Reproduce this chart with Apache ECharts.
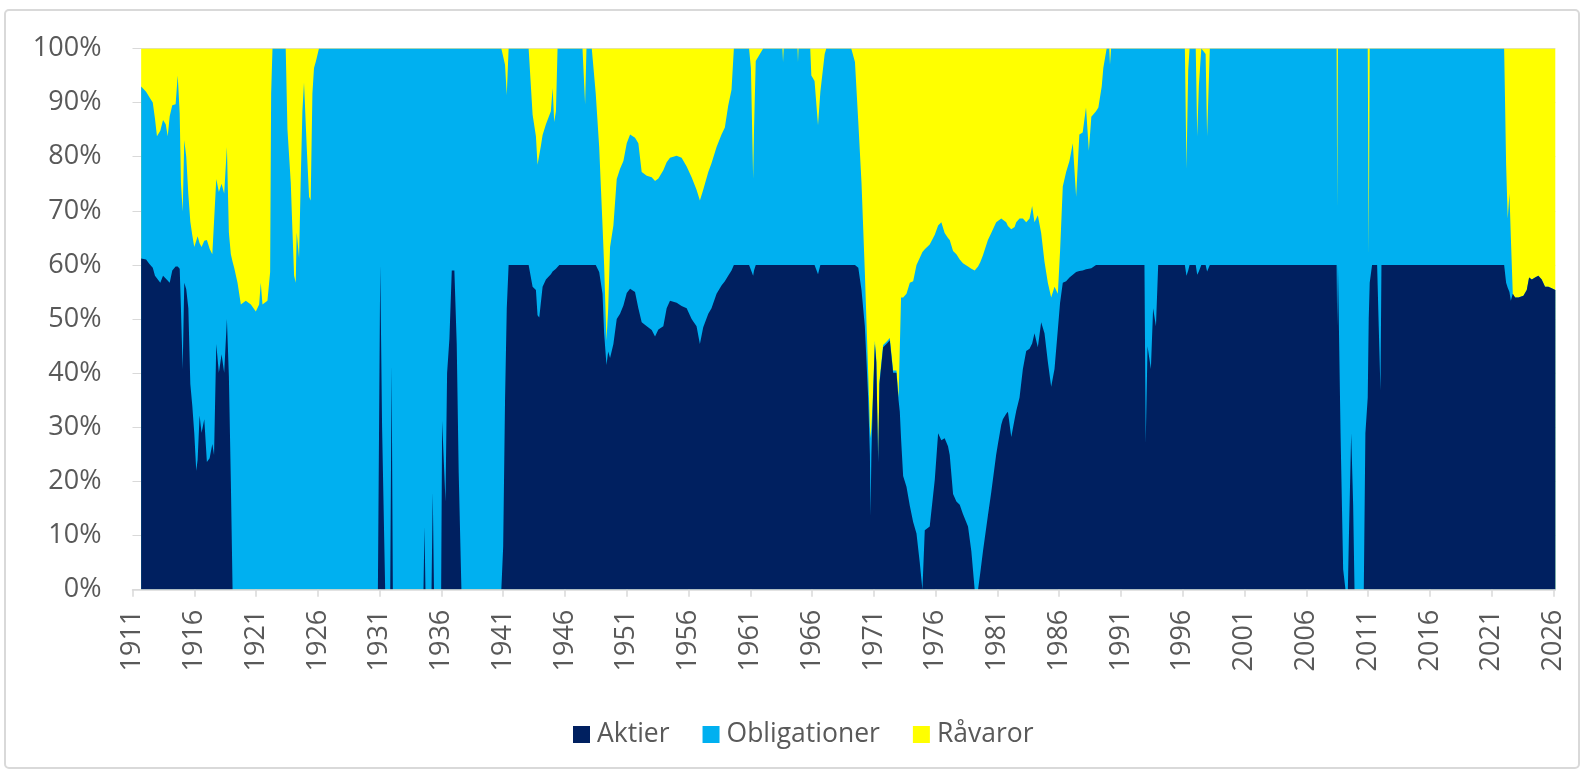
<!DOCTYPE html>
<html>
<head>
<meta charset="utf-8">
<script src="https://cdn.jsdelivr.net/npm/echarts@6.0.0/dist/echarts.min.js"></script>
<style>
  html, body { margin: 0; padding: 0; background: #fff; }
  #chart { width: 1586px; height: 778px; }
</style>
</head>
<body>
<div id="chart"></div>
<script>
// sample dates (decimal years)
var years = [
  1911.7,1912.1,1912.37,1912.64,1912.82,1912.98,1913.25,1913.47,1913.69,1913.85,
  1914.01,1914.22,1914.49,1914.66,1914.82,1914.92,1915.06,1915.19,1915.35,1915.52,
  1915.68,1915.84,1916.0,1916.16,1916.27,1916.43,1916.59,1916.81,1917.02,1917.24,
  1917.46,1917.6,1917.78,1917.99,1918.21,1918.42,1918.64,1918.8,1918.96,1919.1,
  1919.23,1919.5,1919.77,1920.17,1920.58,1920.98,1921.25,1921.38,1921.52,1921.92,
  1922.14,1922.22,1922.33,1923.4,1923.54,1923.81,1923.94,1924.08,1924.21,1924.29,
  1924.48,1924.61,1924.75,1924.88,1925.1,1925.29,1925.42,1925.56,1925.69,1925.85,
  1926.09,1930.86,1931.05,1931.2,1931.45,1931.86,1931.97,1932.07,1934.55,1934.63,
  1934.71,1935.2,1935.3,1935.4,1935.98,1936.06,1936.2,1936.33,1936.46,1936.65,
  1936.84,1937.05,1937.24,1937.4,1937.62,1940.85,1941.0,1941.15,1941.29,1941.44,
  1943.06,1943.38,1943.65,1943.78,1943.92,1944.05,1944.19,1944.46,1944.86,1945.0,
  1945.13,1945.27,1945.4,1945.54,1947.42,1947.63,1947.74,1948.17,1948.49,1948.77,
  1949.04,1949.17,1949.36,1949.5,1949.65,1949.92,1950.19,1950.46,1950.73,1951.0,
  1951.27,1951.67,1951.94,1952.21,1952.62,1953.02,1953.29,1953.56,1953.96,1954.23,
  1954.5,1955.04,1955.44,1955.85,1956.25,1956.65,1956.92,1957.19,1957.6,1957.86,
  1958.27,1958.67,1958.94,1959.21,1959.48,1959.67,1960.9,1961.05,1961.23,1961.3,
  1961.44,1962.04,1963.6,1963.65,1963.7,1964.82,1964.86,1964.9,1965.85,1965.94,
  1966.2,1966.48,1966.67,1967.02,1967.15,1969.17,1969.47,1969.74,1970.0,1970.27,
  1970.54,1970.68,1970.73,1970.8,1970.89,1971.08,1971.2,1971.35,1971.45,1971.75,
  1972.02,1972.29,1972.56,1972.83,1973.0,1973.1,1973.2,1973.37,1973.64,1973.91,
  1974.18,1974.45,1974.71,1974.93,1975.12,1975.52,1975.93,1976.2,1976.46,1976.73,
  1977.0,1977.14,1977.41,1977.68,1977.95,1978.21,1978.62,1978.89,1979.16,1979.43,
  1979.61,1979.83,1980.23,1980.5,1980.9,1981.04,1981.31,1981.44,1981.71,1981.85,
  1982.12,1982.39,1982.52,1982.79,1983.06,1983.33,1983.6,1983.81,1984.0,1984.27,
  1984.54,1984.81,1985.08,1985.35,1985.62,1985.89,1986.07,1986.29,1986.56,1986.83,
  1987.1,1987.37,1987.63,1987.9,1988.17,1988.4,1988.6,1988.98,1989.17,1989.44,
  1989.57,1989.84,1990.05,1990.11,1990.2,1992.9,1993.0,1993.15,1993.42,1993.6,
  1993.83,1994.01,1996.17,1996.3,1996.44,1996.55,1997.05,1997.17,1997.3,1997.5,
  1997.85,1997.97,1998.19,2008.45,2008.5,2008.56,2008.63,2008.77,2008.98,2009.17,
  2009.36,2009.44,2009.63,2009.79,2009.9,2010.65,2010.78,2010.97,2011.05,2011.13,
  2011.32,2011.73,2011.86,2012.0,2012.08,2022.01,2022.17,2022.3,2022.44,2022.55,
  2022.71,2022.9,2023.17,2023.57,2023.84,2024.03,2024.25,2024.51,2024.78,2025.05,
  2025.32,2025.59,2025.86,2026.15
];

// share of stocks (%)
var aktier = [
  61.2,61.0,60.2,59.5,58.0,58.0,56.7,58.0,57.5,57.3,
  56.7,59.0,59.7,59.7,59.3,52.0,40.8,56.7,55.5,52.0,
  38.0,34.0,28.9,22.0,24.0,32.2,29.0,31.5,23.6,24.3,
  26.9,24.9,45.4,40.1,43.5,40.1,50.0,39.5,20.0,0,
  0,0,0,0,0,0,0,0,0,0,
  0,0,0,0,0,0,0,0,0,0,
  0,0,0,0,0,0,0,0,0,0,
  0,0,60,30,0,0,41.5,0,0,11.7,
  0,0,18,0,0,31.2,31.2,16.3,40,46.4,
  59,59,45.4,21.6,0,0,8,35,52,60,
  60,56,55.4,50.7,50.3,50,56,57.3,58.3,58.8,
  59,59.3,59.5,60,60,60,60,60,60,58.7,
  54.7,47.4,41.5,44,42.8,45.4,50,51,52.5,54.8,
  55.6,55,52,49.4,48.7,48,46.8,48.1,48.7,52,
  53.4,53,52.4,52,50,48.7,45.4,48.5,51,52,
  54.7,56.2,57,58,59,60,60,60,58,59,
  60,60,60,60,60,60,60,60,60,60,
  60,58.3,60,60,60,60,60,59.5,55.4,48.7,
  35.5,25,13.7,25,32.9,45.4,42,23.6,38,44.8,
  45.4,46.1,40.1,40.1,35,32.9,28,21,19,15.5,
  12.5,10.4,5.1,0,11,11.7,20.3,28.9,27.6,28,
  26.5,24.9,17.7,16.3,15.7,14,11.7,7.1,0,0,
  3.1,7.1,13.7,18,25,26.9,30.5,31.5,32.5,32.9,
  28.2,31.5,33,35.5,40.8,44.1,44.5,45.5,47.4,44.8,
  49.4,47.4,42.1,37.5,40.8,48.1,53,56.7,57,57.7,
  58.2,58.7,58.9,59,59.2,59.3,59.4,60,60,60,
  60,60,60,60,60,60,27,45,40.8,52,
  48.7,60,60,58,59,60,60,58.2,58.8,60,
  60,58.8,60,60,48.7,60,60,28.9,3.8,0,
  0,9.1,28.9,15.7,0,0,28.9,35.5,50,56.7,
  60,60,48.7,36.8,60,60,56.7,55.8,55,53.4,
  54.7,54,54,54.3,55.4,57.7,57.3,57.7,58,57.3,
  56,56,55.7,55.4
];

// share of bonds (%)
var obligationer = [
  31.8,31.0,30.8,30.5,29.0,25.8,28.1,28.8,28.5,26.5,
  30.8,30.5,30.0,35.3,28.7,23.2,29.1,26.4,24.5,21.0,
  30.0,31.5,34.4,42.5,41.3,31.8,34.3,33.0,41.0,38.7,
  35.1,37.1,30.5,33.4,31.5,33.1,31.8,26.5,42.0,60.6,
  59.5,56.7,52.7,53.4,52.7,51.4,52.7,56.7,52.7,53.4,
  58.7,91.7,100,100,85.1,75.2,66.6,58.0,56.7,66.0,
  61.3,75.2,88.4,93.7,81.8,72.6,71.9,91.7,96.4,97.7,
  100,100,40,70,100,100,58.5,100,100,88.3,
  100,100,82,100,100,68.8,68.8,83.7,60,53.6,
  41,41,54.6,78.4,100,100,92,62,39.4,40,
  40,31.8,28.4,27.8,27.9,32,28,28.7,30.1,33.9,
  27.4,29.1,40.5,40,40,29.7,40,40,31.7,23.1,
  12.6,12.6,4.5,8,20.5,21.9,25.9,26.8,26.7,27.7,
  28.5,28.5,30.5,27.8,27.8,28.2,28.7,27.9,28.8,27,
  26.4,27.2,27.4,26.2,26.2,25.2,26.5,25.4,26.2,26.8,
  27.1,27.9,28.4,31.4,33.4,40,40,36.4,17.9,26,
  37.7,40,40,37.5,40,40,37.5,40,40,35,
  34,27.5,32,39,40,40,37.5,26.9,19.8,10,
  4.6,5,14.3,5,1.1,0.6,0.5,0.4,0.5,0.4,
  0.4,0.4,0.4,0.4,0.5,2.6,26,33,35.7,41.2,
  44.5,49.6,56.2,62.4,51.9,52.1,45.3,38.4,40.3,37.9,
  38.5,39.7,44.9,45.7,45.3,46.3,48,52.2,59,59.7,
  57.4,54.7,50.9,47.9,42.9,41.1,38.1,36.8,35.4,34.3,
  38.4,35.5,34.9,33.1,27.8,23.8,24.1,25.4,20.5,24.4,
  16.5,13.2,14.6,16.5,15.2,6.6,9.6,17.8,20.2,21.5,
  24.3,13.9,25.2,25.5,29.9,21.8,28,28.4,29.1,33,
  36.4,40,40,37,40,40,73,55,59.2,48,
  51.3,40,40,19.8,37,40,40,25.6,34.2,40,
  39,25,40,40,21.9,40,40,71.1,96.2,100,
  100,90.9,71.1,84.3,100,100,71.1,64.5,12,43.3,
  40,40,51.3,63.2,40,40,21.8,12.8,18.2,11.9,
  0,0,0,0,0,0,0,0,0,0,
  0,0,0,0
];

// share of commodities (%)
var ravaror = [
  7.0,8.0,9.0,10.0,13.0,16.2,15.2,13.2,14.0,16.2,
  12.5,10.5,10.3,5.0,12.0,24.8,30.1,16.9,20.0,27.0,
  32.0,34.5,36.7,35.5,34.7,36.0,36.7,35.5,35.4,37.0,
  38.0,38.0,24.1,26.5,25.0,26.8,18.2,34.0,38.0,39.4,
  40.5,43.3,47.3,46.6,47.3,48.6,47.3,43.3,47.3,46.6,
  41.3,8.3,0,0,14.9,24.8,33.4,42.0,43.3,34.0,
  38.7,24.8,11.6,6.3,18.2,27.4,28.1,8.3,3.6,2.3,
  0,0,0,0,0,0,0,0,0,0,
  0,0,0,0,0,0,0,0,0,0,
  0,0,0,0,0,0,0,3,8.6,0,
  0,12.2,16.2,21.5,21.8,18,16,14,11.6,7.3,
  13.6,11.6,0,0,0,10.3,0,0,8.3,18.2,
  32.7,40,54,48,36.7,32.7,24.1,22.2,20.8,17.5,
  15.9,16.5,17.5,22.8,23.5,23.8,24.5,24,22.5,21,
  20.2,19.8,20.2,21.8,23.8,26.1,28.1,26.1,22.8,21.2,
  18.2,15.9,14.6,10.6,7.6,0,0,3.6,24.1,15,
  2.3,0,0,2.5,0,0,2.5,0,0,5,
  6,14.2,8,1,0,0,2.5,13.6,24.8,41.3,
  59.9,70,72,70,66,54,57.5,76,61.5,54.8,
  54.2,53.5,59.5,59.5,64.5,64.5,46,46,45.3,43.3,
  43,40,38.7,37.6,37.1,36.2,34.4,32.7,32.1,34.1,
  35,35.4,37.4,38,39,39.7,40.3,40.7,41,40.3,
  39.5,38.2,35.4,34.1,32.1,32,31.4,31.7,32.1,32.8,
  33.4,33,32.1,31.4,31.4,32.1,31.4,29.1,32.1,30.8,
  34.1,39.4,43.3,46,44,45.3,37.4,25.5,22.8,20.8,
  17.5,27.4,15.9,15.5,10.9,18.9,12.6,11.6,10.9,7,
  3.6,0,0,3,0,0,0,0,0,0,
  0,0,0,22.2,4,0,0,16.2,7,0,
  1,16.2,0,0,29.4,0,0,0,0,0,
  0,0,0,0,0,0,0,0,38,0,
  0,0,0,0,0,0,21.5,31.4,26.8,34.7,
  45.3,46,46,45.7,44.6,42.3,42.7,42.3,42,42.7,
  44,44,44.3,44.6
];

var tickYears = [1911,1916,1921,1926,1931,1936,1941,1946,1951,1956,1961,1966,
  1971,1976,1981,1986,1991,1996,2001,2006,2011,2016,2021,2026];

var seriesNames = ['Aktier', 'Obligationer', 'Råvaror'];
var seriesColors = ['#002060', '#00B0F0', '#FFFF00'];

var chart = echarts.init(document.getElementById('chart'));

// stack the shares by hand: each area is filled from 0 up to its running total,
// later series are painted over earlier ones
var shares = [aktier, obligationer, ravaror];
var running = years.map(function () { return 0; });
var tops = shares.map(function (values) {
  running = running.map(function (r, i) { return r + values[i]; });
  return years.map(function (y, i) { return [y, Math.round(running[i] * 10) / 10]; });
});

function areaSeries(k) {
  return {
    name: seriesNames[k],
    type: 'line',
    data: tops[k],
    symbol: 'none',
    silent: true,
    z: 5 - k,
    lineStyle: { width: 0 },
    itemStyle: { color: seriesColors[k] },
    areaStyle: { color: seriesColors[k], opacity: 1 }
  };
}

var labelFont = 'Open Sans';

var option = {
  animation: false,
  color: seriesColors,
  graphic: [{
    type: 'rect',
    silent: true,
    z: -10,
    shape: { x: 5, y: 10, width: 1574, height: 758, r: 4 },
    style: { fill: '#ffffff', stroke: '#d9d9d9', lineWidth: 2 }
  }],
  grid: { left: 132.5, right: 30.7, top: 48.5, bottom: 188.3, containLabel: false },
  legend: {
    data: seriesNames,
    icon: 'rect',
    itemWidth: 17,
    itemHeight: 17,
    itemGap: 33,
    left: 568,
    top: 716,
    textStyle: { fontFamily: labelFont, fontSize: 26.5, color: '#595959', padding: [0, 0, 0, 2] }
  },
  xAxis: {
    type: 'value',
    min: 1911,
    max: 2026.15,
    z: 10,
    axisLine: { show: true, lineStyle: { color: '#d9d9d9', width: 1.5 } },
    axisTick: { show: true, length: 7, customValues: tickYears, lineStyle: { color: '#d9d9d9', width: 1.5 } },
    axisLabel: {
      customValues: tickYears,
      formatter: function (v) { return String(v); },
      rotate: 90,
      margin: 20,
      fontFamily: labelFont,
      fontSize: 27,
      color: '#595959'
    },
    splitLine: { show: false }
  },
  yAxis: {
    type: 'value',
    min: 0,
    max: 100,
    interval: 10,
    axisLine: { show: false },
    axisTick: { show: false },
    axisLabel: {
      formatter: '{value}%',
      margin: 31,
      fontFamily: labelFont,
      fontSize: 27,
      color: '#595959'
    },
    splitLine: { show: true, lineStyle: { color: '#d9d9d9', width: 1.2 } }
  },
  series: [areaSeries(0), areaSeries(1), areaSeries(2)]
};

chart.setOption(option);
</script>
</body>
</html>
